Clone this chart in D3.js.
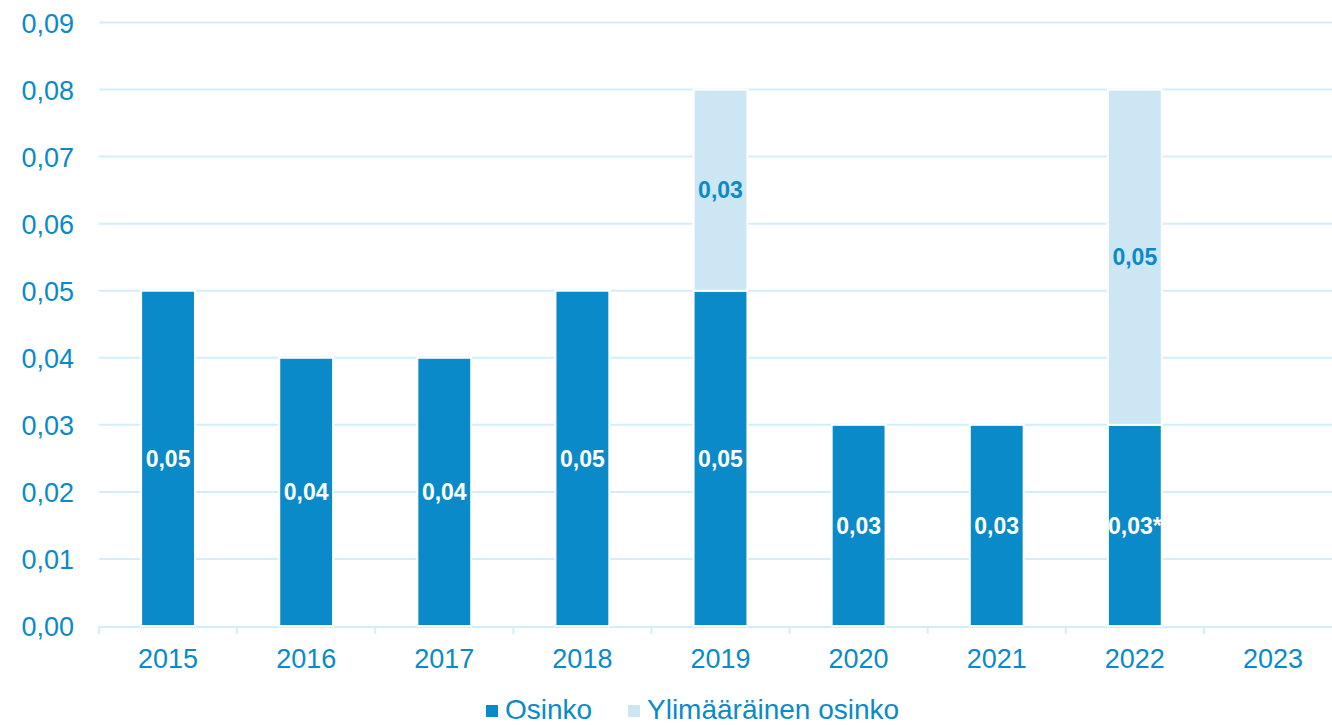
<!DOCTYPE html>
<html>
<head>
<meta charset="utf-8">
<script src="https://cdn.jsdelivr.net/npm/d3@7"></script>
<style>
  body { margin: 0; background: #fff; overflow: hidden; }
  text { font-family: "Liberation Sans", Arial, sans-serif; }
</style>
</head>
<body>
<div id="chart"></div>
<script>
const years = ['2015', '2016', '2017', '2018', '2019', '2020', '2021', '2022', '2023'];
const osinko = [0.05, 0.04, 0.04, 0.05, 0.05, 0.03, 0.03, 0.03, 0];
const ylimaarainen = [0, 0, 0, 0, 0.03, 0, 0, 0.05, 0];
const osinkoNote = ['', '', '', '', '', '', '', '*', ''];
const yTicks = [0, 0.01, 0.02, 0.03, 0.04, 0.05, 0.06, 0.07, 0.08, 0.09];
const seriesNames = ['Osinko', 'Ylimääräinen osinko'];

const width = 1332, height = 725;
const plotLeft = 99, plotRight = 1342, plotTop = 22.5, plotBottom = 626;
const dark = '#0a8ac8', light = '#cce7f3', grid = '#d3eefa', textCol = '#0a8ac8';

const fmt = v => d3.format('.2f')(v).replace('.', ',');

const svg = d3.select('#chart')
              .append('svg')
              .attr('width', width)
              .attr('height', height);

let x = d3.scaleBand().domain(years).range([plotLeft, plotRight]).paddingInner(0.61).paddingOuter(0.305);
let y = d3.scaleLinear().domain([0, 0.09]).range([plotBottom, plotTop]);

// gridlines
svg.append('g')
   .selectAll('line')
   .data(yTicks.slice(1))
   .enter()
   .append('line')
   .attr('x1', plotLeft)
   .attr('x2', width)
   .attr('y1', d => y(d))
   .attr('y2', d => y(d))
   .style('stroke', grid)
   .style('stroke-width', 2);

// y axis labels
let yAxis = d3.axisLeft(y).tickValues(yTicks).tickSize(0).tickPadding(25).tickFormat(fmt);
let yAxisGroup = svg.append('g')
                    .attr('transform', 'translate(' + plotLeft + ',0)')
                    .call(yAxis);
yAxisGroup.select('.domain').remove();
yAxisGroup.selectAll('text')
          .style('font-size', '27px')
          .style('fill', textCol)
          .attr('dy', '0.36em');

// x axis: baseline + category boundary ticks
const step = x.step();
svg.append('line')
   .attr('x1', plotLeft).attr('x2', width)
   .attr('y1', plotBottom + 1).attr('y2', plotBottom + 1)
   .style('stroke', grid).style('stroke-width', 2);

svg.append('g')
   .selectAll('line')
   .data(years)
   .enter()
   .append('line')
   .attr('x1', (d, i) => plotLeft + i * step)
   .attr('x2', (d, i) => plotLeft + i * step)
   .attr('y1', plotBottom)
   .attr('y2', plotBottom + 8)
   .style('stroke', grid).style('stroke-width', 2);

svg.append('g')
   .selectAll('text')
   .data(years)
   .enter()
   .append('text')
   .attr('x', d => x(d) + x.bandwidth() / 2)
   .attr('y', 668)
   .style('text-anchor', 'middle')
   .style('font-size', '27px')
   .style('fill', textCol)
   .text(d => d);

// stacked bars
const rows = years.map((d, i) => ({ year: d, osinko: osinko[i], extra: ylimaarainen[i], note: osinkoNote[i] }));

svg.append('g')
   .selectAll('rect')
   .data(rows.filter(d => d.osinko > 0))
   .enter()
   .append('rect')
   .attr('x', d => x(d.year))
   .attr('y', d => y(d.osinko))
   .attr('width', x.bandwidth())
   .attr('height', d => y(0) - y(d.osinko))
   .style('fill', dark)
   .style('stroke', '#fff')
   .style('stroke-width', 2);

svg.append('g')
   .selectAll('rect')
   .data(rows.filter(d => d.extra > 0))
   .enter()
   .append('rect')
   .attr('x', d => x(d.year))
   .attr('y', d => y(d.osinko + d.extra))
   .attr('width', x.bandwidth())
   .attr('height', d => y(d.osinko) - y(d.osinko + d.extra))
   .style('fill', light)
   .style('stroke', '#fff')
   .style('stroke-width', 2);

// value labels
svg.append('g')
   .selectAll('text')
   .data(rows.filter(d => d.osinko > 0))
   .enter()
   .append('text')
   .attr('x', d => x(d.year) + x.bandwidth() / 2)
   .attr('y', d => y(d.osinko / 2))
   .attr('dy', '0.36em')
   .style('text-anchor', 'middle')
   .style('font-size', '23px')
   .style('font-weight', 'bold')
   .style('fill', '#fff')
   .text(d => fmt(d.osinko) + d.note);

svg.append('g')
   .selectAll('text')
   .data(rows.filter(d => d.extra > 0))
   .enter()
   .append('text')
   .attr('x', d => x(d.year) + x.bandwidth() / 2)
   .attr('y', d => y(d.osinko + d.extra / 2))
   .attr('dy', '0.36em')
   .style('text-anchor', 'middle')
   .style('font-size', '23px')
   .style('font-weight', 'bold')
   .style('fill', textCol)
   .text(d => fmt(d.extra));

// legend at the bottom edge
const legendX = [486, 628];
let legend = svg.append('g')
                .selectAll('g')
                .data(seriesNames)
                .enter()
                .append('g')
                .attr('transform', (d, i) => 'translate(' + legendX[i] + ',705)');

legend.append('rect')
      .attr('width', 12)
      .attr('height', 12)
      .style('fill', (d, i) => i === 0 ? dark : light);

legend.append('text')
      .attr('x', 19)
      .attr('y', 14)
      .style('font-size', '28px')
      .style('fill', textCol)
      .text(d => d);
</script>
</body>
</html>
